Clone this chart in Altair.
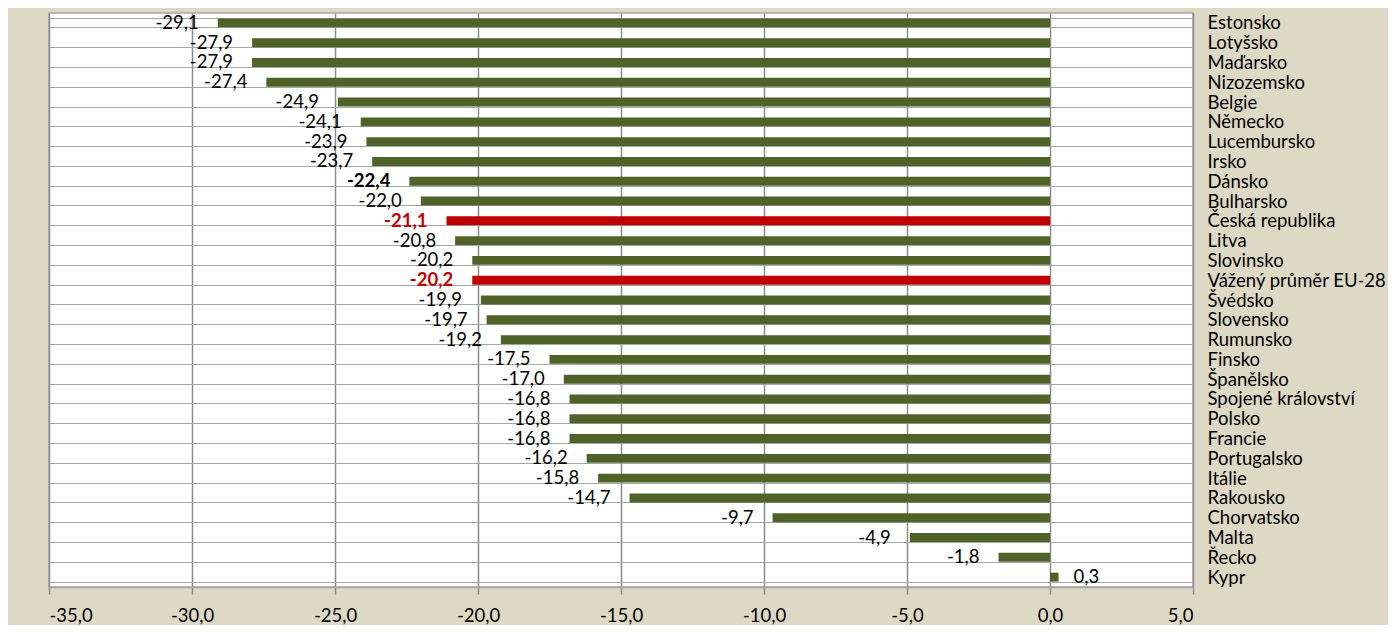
import altair as alt
import pandas as pd

countries = ["Estonsko", "Lotyšsko", "Maďarsko", "Nizozemsko", "Belgie", "Německo",
             "Lucembursko", "Irsko", "Dánsko", "Bulharsko", "Česká republika", "Litva",
             "Slovinsko", "Vážený průměr EU-28", "Švédsko", "Slovensko", "Rumunsko",
             "Finsko", "Španělsko", "Spojené království", "Polsko", "Francie",
             "Portugalsko", "Itálie", "Rakousko", "Chorvatsko", "Malta", "Řecko", "Kypr"]
values = [-29.1, -27.9, -27.9, -27.4, -24.9, -24.1, -23.9, -23.7, -22.4, -22.0, -21.1,
          -20.8, -20.2, -20.2, -19.9, -19.7, -19.2, -17.5, -17.0, -16.8, -16.8, -16.8,
          -16.2, -15.8, -14.7, -9.7, -4.9, -1.8, 0.3]
highlight = ["Česká republika", "Vážený průměr EU-28"]
bold_labels = ["Dánsko", "Česká republika", "Vážený průměr EU-28"]
x_ticks = [-35, -30, -25, -20, -15, -10, -5, 0, 5]

GREEN = "#4F6228"
RED = "#C00000"
FONT = "Lato"
FS = 18.5

df = pd.DataFrame({"country": countries, "value": values})
df["label"] = [f"{v:.1f}".replace(".", ",") for v in values]
df["hl"] = df["country"].isin(highlight)
df["bold"] = df["country"].isin(bold_labels)
df["neg"] = df["value"] < 0

xscale = alt.Scale(domain=[-35, 5], nice=False, zero=False)
yscale = alt.Scale(domain=countries, paddingInner=0.55, paddingOuter=0.275)

base = alt.Chart(df)

bars = base.mark_bar().encode(
    x=alt.X("value:Q", scale=xscale,
            axis=alt.Axis(values=x_ticks, title=None, grid=True, gridColor="#8C8C8C",
                          gridWidth=1.5, domain=True, domainColor="#A6A6A6", domainWidth=1.5,
                          ticks=True, tickColor="#8C8C8C", tickSize=7, tickWidth=1.5,
                          labelFont=FONT, labelFontSize=FS, labelColor="#000000",
                          labelPadding=12,
                          labelExpr="(datum.value < 0 ? '-' : '') + replace(format(abs(datum.value), '.1f'), '.', ',')")),
    x2=alt.datum(0),
    y=alt.Y("country:N", scale=yscale, sort=None,
            axis=alt.Axis(orient="right", title=None, ticks=False, domain=False,
                          grid=True, tickBand="extent", gridColor="#A6A6A6", gridWidth=1.2,
                          labelFont=FONT, labelFontSize=FS, labelColor="#000000",
                          labelPadding=14, labelAlign="left")),
    color=alt.condition(alt.datum.hl, alt.value(RED), alt.value(GREEN)),
)

def text_layer(neg, bold):
    return base.transform_filter(
        (alt.datum.neg == neg) & (alt.datum.bold == bold)
    ).mark_text(
        align="right" if neg else "left",
        dx=-19 if neg else 15,
        baseline="middle",
        font=FONT, fontSize=FS,
        fontWeight="bold" if bold else "normal",
    ).encode(
        x=alt.X("value:Q", scale=xscale),
        y=alt.Y("country:N", scale=yscale, sort=None),
        text="label:N",
        color=alt.condition(alt.datum.hl, alt.value(RED), alt.value("#000000")),
    )

chart = alt.layer(
    bars,
    text_layer(True, False),
    text_layer(True, True),
    text_layer(False, False),
).properties(
    width=1144, height=574,
    background="#DDD9C4",
    padding={"left": 41, "top": 5, "right": 195, "bottom": 38},
    autosize=alt.AutoSizeParams(type="none"),
).configure_view(
    fill="#FFFFFF", stroke="#A6A6A6", strokeWidth=1.5
)

chart.save("out.html", embed_options={"renderer": "svg", "actions": False})
